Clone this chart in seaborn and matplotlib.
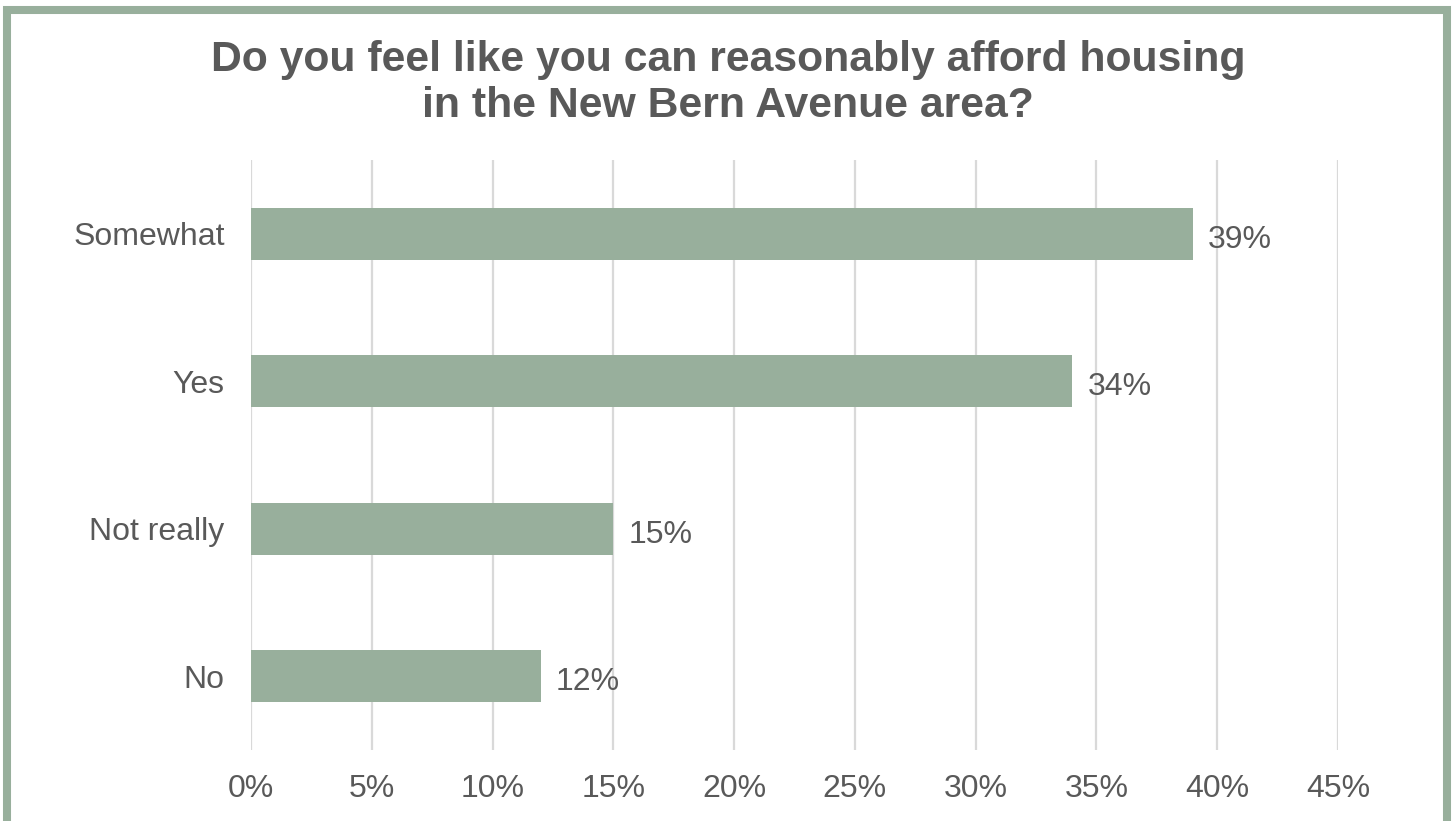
import matplotlib
matplotlib.use("Agg")
import matplotlib.pyplot as plt
from matplotlib.patches import Rectangle
from matplotlib.ticker import FuncFormatter
import seaborn as sns
import pandas as pd

categories = ["Somewhat", "Yes", "Not really", "No"]
percentages = [39, 34, 15, 12]
x_ticks = [0, 5, 10, 15, 20, 25, 30, 35, 40, 45]

title = "Do you feel like you can reasonably afford housing\nin the New Bern Avenue area?"

sage = "#98AF9C"
text_grey = "#595959"

sns.set_theme(style="white")
plt.rcParams["font.family"] = ["Liberation Sans", "DejaVu Sans"]

df = pd.DataFrame({"answer": categories, "pct": percentages})

fig = plt.figure(figsize=(14.53, 8.21), dpi=100)
ax = fig.add_axes([251 / 1453, 1 - 750 / 821, 1087 / 1453, 590 / 821])

sns.barplot(data=df, x="pct", y="answer", order=categories, color=sage,
            saturation=1, width=0.355, ax=ax, zorder=3)
for p in ax.patches:
    p.set_edgecolor("none")

ax.set_xlim(0, 45)
ax.set_ylim(3.5, -0.5)
ax.set_xticks(x_ticks)
ax.xaxis.set_major_formatter(FuncFormatter(lambda v, _: f"{v:.0f}%"))
ax.grid(axis="x", color="#D9D9D9", linewidth=1.6, zorder=0)
ax.grid(axis="y", visible=False)
for s in ax.spines.values():
    s.set_visible(False)
ax.set_xlabel("")
ax.set_ylabel("")
ax.tick_params(axis="x", length=0, pad=17, labelsize=23, labelcolor=text_grey)
ax.tick_params(axis="y", length=0, pad=19, labelsize=23, labelcolor=text_grey)
for lbl in ax.get_yticklabels():
    lbl.set_verticalalignment("center_baseline")

for i, v in enumerate(percentages):
    ax.annotate(f"{v}%", xy=(v, i), xytext=(15, -6), textcoords="offset pixels",
                ha="left", va="center", fontsize=23, color=text_grey)

fig.text(728 / 1453, 1 - 83 / 821, title, ha="center", va="center",
         fontsize=30.8, fontweight="bold", color=text_grey, linespacing=1.18)

# Sage frame around the whole figure
fig.patches.append(Rectangle((7 / 1453, -1.5 / 821), 1440 / 1453, 812.5 / 821,
                             transform=fig.transFigure, fill=False,
                             edgecolor=sage, linewidth=5.8))

fig.savefig("out.png", dpi=100, facecolor="white")
